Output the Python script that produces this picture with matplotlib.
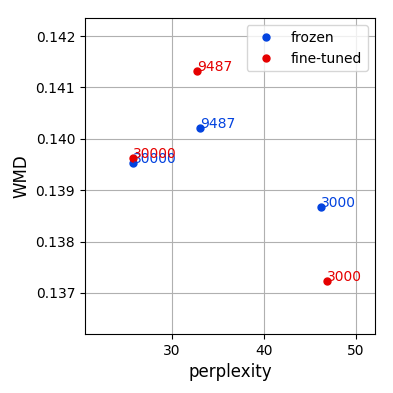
import matplotlib
matplotlib.use("Agg")
import matplotlib.pyplot as plt

labels = ["3000", "9487", "30000"]
frozen_ppl = [46.2, 33.1, 25.8]
frozen_wmd = [0.13867, 0.14021, 0.13952]
ft_ppl = [46.9, 32.75, 25.8]
ft_wmd = [0.13723, 0.14132, 0.13962]

blue = "#0343df"
red = "#e50000"

fig = plt.figure(figsize=(3.93, 3.93), dpi=100)
ax = fig.add_axes([0.216, 0.150, 0.738, 0.804])
ax.plot(frozen_ppl, frozen_wmd, 'o', color=blue, ms=5, label="frozen")
ax.plot(ft_ppl, ft_wmd, 'o', color=red, ms=5, label="fine-tuned")
for x, y, t in zip(frozen_ppl, frozen_wmd, labels):
    ax.text(x, y, t, color=blue, fontsize=10)
for x, y, t in zip(ft_ppl, ft_wmd, labels):
    ax.text(x, y, t, color=red, fontsize=10)
ax.set_xlim(20.55, 52.1)
ax.set_ylim(0.13620, 0.14235)
ax.set_xticks([30, 40, 50])
ax.set_yticks([0.137, 0.138, 0.139, 0.140, 0.141, 0.142])
ax.grid(True)
ax.set_axisbelow(True)
ax.set_xlabel("perplexity", fontsize=12)
ax.set_ylabel("WMD", fontsize=12)
ax.legend(loc="upper right")
fig.savefig("out.png", dpi=100)
